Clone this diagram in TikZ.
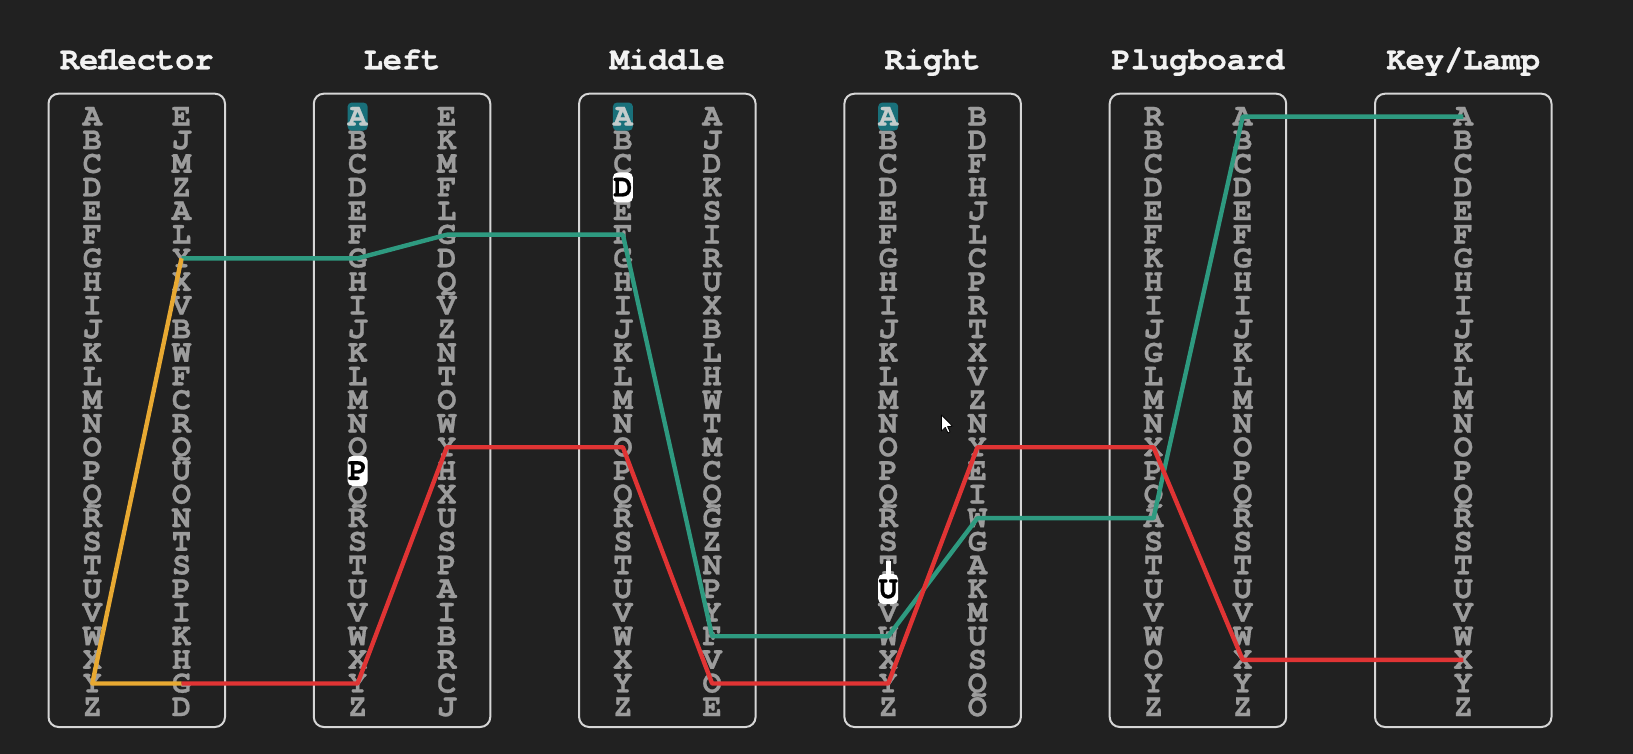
\documentclass[tikz,border=0pt]{standalone}
\usepackage{fontspec}
\newfontfamily\cur[FakeBold=0.8]{texgyrecursor-bold.otf}
\definecolor{bg}{HTML}{212121}
\definecolor{lettergray}{HTML}{9C9C9C}
\definecolor{boxgray}{HTML}{D6D6D6}
\definecolor{titlewhite}{HTML}{F2F2F2}
\definecolor{tealline}{HTML}{2E9A80}
\definecolor{redline}{HTML}{E03434}
\definecolor{yellowline}{HTML}{E8A932}
\definecolor{hlteal}{HTML}{19707A}
\definecolor{hltext}{HTML}{C4CCCC}
\tikzset{
  lt/.style={font=\cur\fontsize{32}{32}\selectfont, text=lettergray, inner sep=0pt, text height=18pt, text depth=0pt},
  ttl/.style={font=\cur\fontsize{32}{32}\selectfont, text=titlewhite, anchor=base, inner sep=0pt},
  boxst/.style={draw=boxgray, line width=2pt, rounded corners=10pt, minimum width=176.5pt, minimum height=633.3pt, inner sep=0pt},
  hlt/.style={lt, fill=hlteal, text=hltext, rounded corners=4pt, minimum width=20pt, minimum height=28pt},
  hlw/.style={lt, fill=white, text=black, rounded corners=5pt, minimum width=20pt, minimum height=30pt},
  wire/.style={line width=4.4pt, line join=round},
}
\begin{document}
\begin{tikzpicture}[x=1pt,y=-1pt]
\fill[bg] (0,0) rectangle (1633,754);
\useasboundingbox (0,0) rectangle (1633,754);
% boxes and titles
\foreach \i/\t in {0/Reflector,1/Left,2/Middle,3/Right,4/Plugboard,5/Key{/}Lamp}{
  \node[boxst] (box\i) at ({48.5+265.3*\i+88.25}, 410.35) {};
  \node[ttl] (t\i) at ({48.5+265.3*\i+88.25}, 69.3) {\t};
}
% letter columns
\foreach \bx/\off/\nm/\lst in {
 0/43.8/b0l/{A,B,C,D,E,F,G,H,I,J,K,L,M,N,O,P,Q,R,S,T,U,V,W,X,Y,Z},
 0/133/b0r/{E,J,M,Z,A,L,Y,X,V,B,W,F,C,R,Q,U,O,N,T,S,P,I,K,H,G,D},
 1/43.8/b1l/{A,B,C,D,E,F,G,H,I,J,K,L,M,N,O,P,Q,R,S,T,U,V,W,X,Y,Z},
 1/133/b1r/{E,K,M,F,L,G,D,Q,V,Z,N,T,O,W,Y,H,X,U,S,P,A,I,B,R,C,J},
 2/43.8/b2l/{A,B,C,D,E,F,G,H,I,J,K,L,M,N,O,P,Q,R,S,T,U,V,W,X,Y,Z},
 2/133/b2r/{A,J,D,K,S,I,R,U,X,B,L,H,W,T,M,C,Q,G,Z,N,P,Y,F,V,O,E},
 3/43.8/b3l/{A,B,C,D,E,F,G,H,I,J,K,L,M,N,O,P,Q,R,S,T,U,V,W,X,Y,Z},
 3/133/b3r/{B,D,F,H,J,L,C,P,R,T,X,V,Z,N,Y,E,I,W,G,A,K,M,U,S,Q,O},
 4/43.8/b4l/{R,B,C,D,E,F,K,H,I,J,G,L,M,N,X,P,Q,A,S,T,U,V,W,O,Y,Z},
 4/133/b4r/{A,B,C,D,E,F,G,H,I,J,K,L,M,N,O,P,Q,R,S,T,U,V,W,X,Y,Z},
 5/88.25/b5/{A,B,C,D,E,F,G,H,I,J,K,L,M,N,O,P,Q,R,S,T,U,V,W,X,Y,Z}}{
  \foreach \ch [count=\j from 0] in \lst {
    \node[lt] (\nm-\j) at ({48.5+265.3*\bx+\off}, {116.6+23.62*\j}) {\ch};
  }
}
% highlights
\node[hlt] (h1) at (b1l-0) {A};
\node[hlt] (h2) at (b2l-0) {A};
\node[hlt] (h3) at (b3l-0) {A};
\node[hlw] (w1) at (b1l-15) {P};
\node[hlw] (w2) at (b2l-3) {D};
\fill[white] ([xshift=-2.5pt,yshift=-6pt]b3l-20.north) rectangle ([xshift=2.5pt,yshift=4pt]b3l-19.center);
\node[hlw] (w3) at (b3l-20) {U};
% wires
\draw[wire, tealline] (b5-0.center) -- (b4r-0.center) -- (b4l-17.center) -- (b3r-17.center)
  -- (b3l-22.center) -- (b2r-22.center) -- (b2l-5.center) -- (b1r-5.center)
  -- (b1l-6.center) -- (b0r-6.center);
\draw[wire, yellowline] (b0r-6.center) -- (b0l-24.center) -- (b0r-24.center);
\draw[wire, redline] (b0r-24.center) -- (b1l-24.center) -- (b1r-14.center) -- (b2l-14.center)
  -- (b2r-24.center) -- (b3l-24.center) -- (b3r-14.center) -- (b4l-14.center)
  -- (b4r-23.center) -- (b5-23.center);
% mouse cursor
\coordinate (cur) at (941.5,415);
\filldraw[fill=white, draw=black, line width=0.8pt, line join=round, shift={(cur)}]
  (0,0) -- (0,16) -- (3.8,12.4) -- (6.4,18) -- (8.6,17) -- (6.1,11.5) -- (11.2,11.3) -- cycle;
\end{tikzpicture}
\end{document}
